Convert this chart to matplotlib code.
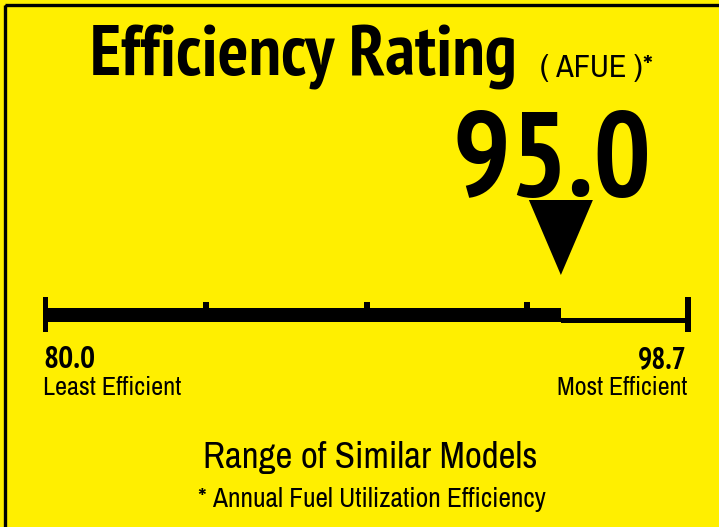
import numpy as np
import matplotlib
matplotlib.use("Agg")
import matplotlib.pyplot as plt
from matplotlib.patches import Rectangle

# -----------------------------
# Data
# -----------------------------
scale_min = 80.0
scale_max = 98.7
rating = 95.0
n_sections = 4
title = "Efficiency Rating"
unit_label = "( AFUE )*"
end_labels = ["Least Efficient", "Most Efficient"]
caption = "Range of Similar Models"
footnote = "* Annual Fuel Utilization Efficiency"

YELLOW = "#FFEF00"
FONT_BOLD = ["PT Sans Narrow", "Roboto Condensed", "DejaVu Sans"]
FONT_REG = ["Archivo Narrow", "Roboto Condensed", "DejaVu Sans"]

W, H = 719, 527
fig = plt.figure(figsize=(W / 100, H / 100), dpi=100)
fig.patch.set_facecolor(YELLOW)
renderer = fig.canvas.get_renderer()

# background axes in pixel coordinates (for text layout + frame)
bg = fig.add_axes([0, 0, 1, 1])
bg.set_xlim(0, W)
bg.set_ylim(H, 0)
bg.axis("off")
bg.add_patch(Rectangle((4.5, 4.8), W + 20, H + 20, fill=False, lw=2.4, ec="black"))


def fit_text(x, y, s, width_px, ha="left", bold=False):
    # size the text so its width matches width_px
    t = bg.text(x, y, s, fontsize=10, fontweight="bold" if bold else "normal",
                family=FONT_BOLD if bold else FONT_REG, ha=ha, va="baseline")
    w = t.get_window_extent(renderer).width
    t.set_fontsize(10 * width_px / w)
    return t


fit_text(90, 75, title, 430, bold=True)
fit_text(540, 77, unit_label, 113)
fit_text(652, 196, f"{rating:.1f}", 199, ha="right", bold=True)

fit_text(43, 368, f"{scale_min:.1f}", 52, bold=True)
fit_text(43, 395, end_labels[0], 139)
fit_text(687, 368, f"{scale_max:.1f}", 49, ha="right", bold=True)
fit_text(687, 395, end_labels[1], 131, ha="right")

fit_text(370.5, 468, caption, 335, ha="center")
fit_text(372, 507, footnote, 350, ha="center")

# -----------------------------
# Scale bar (x in AFUE units, y in pixels)
# -----------------------------
x0_px, x1_px = 45.5, 688
y_top, y_bot = 190, 340
ax = fig.add_axes([x0_px / W, 1 - y_bot / H, (x1_px - x0_px) / W, (y_bot - y_top) / H])
ax.set_xlim(scale_min, scale_max)
ax.set_ylim(y_bot, y_top)
ax.axis("off")
px = (scale_max - scale_min) / (x1_px - x0_px)  # data units per pixel

# thick part up to rating, thin part after
ax.barh(315, rating - scale_min, left=scale_min, height=14, color="black")
ax.barh(320.5, scale_max - rating, left=rating, height=5, color="black")

# quarter ticks
ticks = np.linspace(scale_min, scale_max, n_sections + 1)
ax.bar(ticks[1:-1], 7, bottom=302, width=6 * px, color="black")
# end bars
ax.bar(ticks[[0, -1]], 35, bottom=297, width=5.5 * px, color="black", clip_on=False)

# pointer triangle
ax.fill([rating - 32 * px, rating + 32 * px, rating], [200, 200, 275],
        color="black", lw=0)

fig.savefig("out.png", dpi=100, facecolor=YELLOW)
